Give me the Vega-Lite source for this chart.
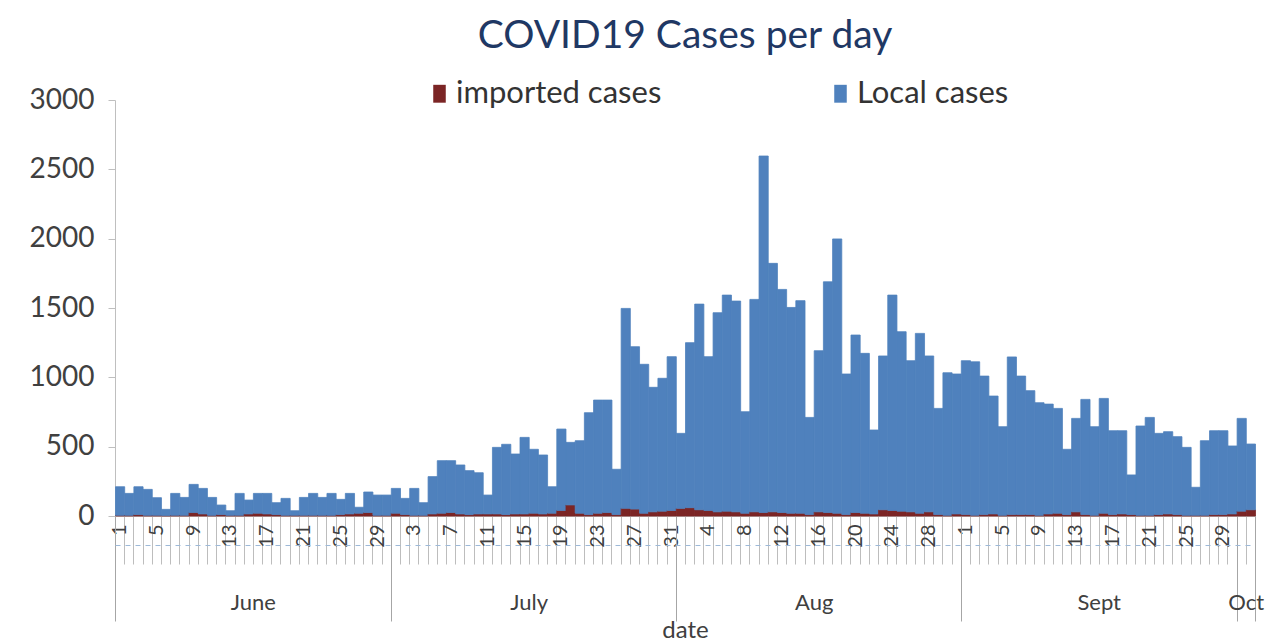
{
  "$schema": "https://vega.github.io/schema/vega-lite/v6.json",
  "width": 1140,
  "height": 416,
  "autosize": "none",
  "padding": {"left": 115, "top": 100, "right": 12, "bottom": 128},
  "background": "white",
  "config": {"view": {"stroke": null}, "font": "Lato", "bar": {"binSpacing": 0}},
  "title": {"text": "COVID19 Cases per day", "fontSize": 39, "font": "Lato", "fontWeight": "normal", "color": "#1F3864", "anchor": "middle", "offset": 22},
  "data": {"values": [
    {"date":"2020-06-01","imported":5,"local":206},
    {"date":"2020-06-02","imported":5,"local":158},
    {"date":"2020-06-03","imported":10,"local":201},
    {"date":"2020-06-04","imported":5,"local":187},
    {"date":"2020-06-05","imported":5,"local":127},
    {"date":"2020-06-06","imported":3,"local":45},
    {"date":"2020-06-07","imported":5,"local":158},
    {"date":"2020-06-08","imported":5,"local":129},
    {"date":"2020-06-09","imported":25,"local":203},
    {"date":"2020-06-10","imported":15,"local":184},
    {"date":"2020-06-11","imported":5,"local":129},
    {"date":"2020-06-12","imported":10,"local":69},
    {"date":"2020-06-13","imported":5,"local":33},
    {"date":"2020-06-14","imported":5,"local":158},
    {"date":"2020-06-15","imported":15,"local":100},
    {"date":"2020-06-16","imported":20,"local":143},
    {"date":"2020-06-17","imported":15,"local":148},
    {"date":"2020-06-18","imported":10,"local":86},
    {"date":"2020-06-19","imported":5,"local":122},
    {"date":"2020-06-20","imported":5,"local":33},
    {"date":"2020-06-21","imported":5,"local":129},
    {"date":"2020-06-22","imported":5,"local":158},
    {"date":"2020-06-23","imported":5,"local":129},
    {"date":"2020-06-24","imported":5,"local":158},
    {"date":"2020-06-25","imported":10,"local":110},
    {"date":"2020-06-26","imported":15,"local":148},
    {"date":"2020-06-27","imported":20,"local":43},
    {"date":"2020-06-28","imported":25,"local":148},
    {"date":"2020-06-29","imported":5,"local":146},
    {"date":"2020-06-30","imported":5,"local":146},
    {"date":"2020-07-01","imported":20,"local":179},
    {"date":"2020-07-02","imported":10,"local":117},
    {"date":"2020-07-03","imported":5,"local":194},
    {"date":"2020-07-04","imported":5,"local":91},
    {"date":"2020-07-05","imported":15,"local":269},
    {"date":"2020-07-06","imported":20,"local":379},
    {"date":"2020-07-07","imported":25,"local":374},
    {"date":"2020-07-08","imported":15,"local":353},
    {"date":"2020-07-09","imported":10,"local":317},
    {"date":"2020-07-10","imported":15,"local":297},
    {"date":"2020-07-11","imported":15,"local":136},
    {"date":"2020-07-12","imported":15,"local":480},
    {"date":"2020-07-13","imported":10,"local":507},
    {"date":"2020-07-14","imported":15,"local":432},
    {"date":"2020-07-15","imported":15,"local":552},
    {"date":"2020-07-16","imported":20,"local":461},
    {"date":"2020-07-17","imported":15,"local":425},
    {"date":"2020-07-18","imported":20,"local":191},
    {"date":"2020-07-19","imported":40,"local":587},
    {"date":"2020-07-20","imported":80,"local":451},
    {"date":"2020-07-21","imported":20,"local":523},
    {"date":"2020-07-22","imported":10,"local":735},
    {"date":"2020-07-23","imported":20,"local":816},
    {"date":"2020-07-24","imported":25,"local":811},
    {"date":"2020-07-25","imported":10,"local":327},
    {"date":"2020-07-26","imported":55,"local":1442},
    {"date":"2020-07-27","imported":50,"local":1171},
    {"date":"2020-07-28","imported":20,"local":1074},
    {"date":"2020-07-29","imported":30,"local":898},
    {"date":"2020-07-30","imported":35,"local":958},
    {"date":"2020-07-31","imported":40,"local":1109},
    {"date":"2020-08-01","imported":55,"local":541},
    {"date":"2020-08-02","imported":60,"local":1190},
    {"date":"2020-08-03","imported":45,"local":1483},
    {"date":"2020-08-04","imported":40,"local":1109},
    {"date":"2020-08-05","imported":30,"local":1436},
    {"date":"2020-08-06","imported":35,"local":1558},
    {"date":"2020-08-07","imported":30,"local":1520},
    {"date":"2020-08-08","imported":20,"local":732},
    {"date":"2020-08-09","imported":30,"local":1532},
    {"date":"2020-08-10","imported":25,"local":2571},
    {"date":"2020-08-11","imported":30,"local":1792},
    {"date":"2020-08-12","imported":25,"local":1609},
    {"date":"2020-08-13","imported":20,"local":1484},
    {"date":"2020-08-14","imported":20,"local":1533},
    {"date":"2020-08-15","imported":10,"local":701},
    {"date":"2020-08-16","imported":30,"local":1162},
    {"date":"2020-08-17","imported":25,"local":1664},
    {"date":"2020-08-18","imported":20,"local":1978},
    {"date":"2020-08-19","imported":10,"local":1014},
    {"date":"2020-08-20","imported":25,"local":1280},
    {"date":"2020-08-21","imported":20,"local":1153},
    {"date":"2020-08-22","imported":15,"local":605},
    {"date":"2020-08-23","imported":45,"local":1109},
    {"date":"2020-08-24","imported":40,"local":1553},
    {"date":"2020-08-25","imported":35,"local":1294},
    {"date":"2020-08-26","imported":30,"local":1090},
    {"date":"2020-08-27","imported":20,"local":1297},
    {"date":"2020-08-28","imported":30,"local":1124},
    {"date":"2020-08-29","imported":10,"local":766},
    {"date":"2020-08-30","imported":5,"local":1028},
    {"date":"2020-08-31","imported":15,"local":1009},
    {"date":"2020-09-01","imported":10,"local":1110},
    {"date":"2020-09-02","imported":5,"local":1107},
    {"date":"2020-09-03","imported":10,"local":999},
    {"date":"2020-09-04","imported":15,"local":850},
    {"date":"2020-09-05","imported":5,"local":639},
    {"date":"2020-09-06","imported":10,"local":1137},
    {"date":"2020-09-07","imported":10,"local":999},
    {"date":"2020-09-08","imported":10,"local":894},
    {"date":"2020-09-09","imported":5,"local":812},
    {"date":"2020-09-10","imported":15,"local":792},
    {"date":"2020-09-11","imported":20,"local":756},
    {"date":"2020-09-12","imported":10,"local":471},
    {"date":"2020-09-13","imported":30,"local":674},
    {"date":"2020-09-14","imported":10,"local":831},
    {"date":"2020-09-15","imported":5,"local":639},
    {"date":"2020-09-16","imported":20,"local":828},
    {"date":"2020-09-17","imported":10,"local":605},
    {"date":"2020-09-18","imported":15,"local":600},
    {"date":"2020-09-19","imported":10,"local":286},
    {"date":"2020-09-20","imported":5,"local":644},
    {"date":"2020-09-21","imported":5,"local":706},
    {"date":"2020-09-22","imported":10,"local":586},
    {"date":"2020-09-23","imported":15,"local":593},
    {"date":"2020-09-24","imported":10,"local":562},
    {"date":"2020-09-25","imported":5,"local":490},
    {"date":"2020-09-26","imported":5,"local":202},
    {"date":"2020-09-27","imported":5,"local":538},
    {"date":"2020-09-28","imported":10,"local":605},
    {"date":"2020-09-29","imported":10,"local":605},
    {"date":"2020-09-30","imported":15,"local":490},
    {"date":"2020-10-01","imported":35,"local":669},
    {"date":"2020-10-02","imported":45,"local":474}
  ]},
  "layer": [
    {
      "transform": [{"fold": ["imported", "local"], "as": ["type", "cases"]}],
      "mark": {"type": "bar", "binSpacing": 0, "strokeWidth": 0.8},
      "encoding": {
        "x": {
          "field": "date", "type": "temporal", "timeUnit": "utcyearmonthdate",
          "scale": {"domain": [{"year": 2020, "month": 6, "date": 1, "utc": true}, {"year": 2020, "month": 10, "date": 3, "utc": true}], "nice": false},
          "axis": {
            "orient": "bottom",
            "title": null,
            "tickCount": {"interval": "day", "step": 1},
            "labelExpr": "(round((datum.value - utc(2020,5,1)) / 86400000) % 4 == 0 && round((datum.value - utc(2020,5,1)) / 86400000) < 122) ? '' + utcdate(datum.value) : ''",
            "labelAngle": -90, "labelAlign": "right", "labelBaseline": "middle",
            "labelFontSize": 20, "labelColor": "#404040", "labelFont": "Lato",
            "labelPadding": -40, "labelOffset": 4.6,
            "labelOverlap": false, "labelFlush": false, "labelBound": false,
            "tickSize": 48, "tickColor": "#BDBDBD", "tickWidth": 1,
            "domainColor": "#BFBFBF", "grid": false
          }
        },
        "y": {
          "field": "cases", "type": "quantitative", "stack": "zero",
          "scale": {"domain": [0, 3000], "nice": false},
          "axis": {
            "title": null, "values": [0, 500, 1000, 1500, 2000, 2500, 3000], "format": "d",
            "tickSize": 7, "tickColor": "#BFBFBF", "domainColor": "#BFBFBF",
            "labelFontSize": 28, "labelColor": "#404040", "labelFont": "Lato",
            "labelPadding": 14, "grid": false
          }
        },
        "color": {
          "field": "type", "type": "nominal",
          "scale": {"domain": ["imported", "local"], "range": ["#7B2525", "#4F81BD"]},
          "legend": {
            "title": null, "orient": "none", "legendX": 309, "legendY": -22,
            "direction": "horizontal",
            "labelExpr": "datum.label == 'imported' ? 'imported cases' : 'Local cases'",
            "labelFontSize": 31, "labelColor": "#333333", "labelFont": "Lato",
            "symbolType": "M-0.7,-1L0.7,-1L0.7,1L-0.7,1Z", "symbolSize": 320,
            "symbolStrokeWidth": 0, "columnPadding": 163, "labelOffset": 1, "labelLimit": 400
          }
        },
        "stroke": {
          "field": "type", "type": "nominal",
          "scale": {"domain": ["imported", "local"], "range": ["#7B2525", "#4F81BD"]},
          "legend": null
        },
        "order": {"field": "type", "sort": "ascending"}
      }
    },
    {
      "data": {"values": [
        {"month": "June", "start": "2020-06-01"},
        {"month": "July", "start": "2020-07-01"},
        {"month": "Aug", "start": "2020-08-01"},
        {"month": "Sept", "start": "2020-09-01"},
        {"month": "Oct", "start": "2020-10-01"}
      ]},
      "mark": {"type": "rule", "opacity": 0},
      "encoding": {
        "x": {
          "field": "start", "type": "temporal", "timeUnit": "utcyearmonthdate",
          "scale": {"domain": [{"year": 2020, "month": 6, "date": 1, "utc": true}, {"year": 2020, "month": 10, "date": 3, "utc": true}], "nice": false},
          "axis": {
            "orient": "bottom",
            "title": null,
            "values": [
              {"year": 2020, "month": 6, "date": 1, "utc": true},
              {"year": 2020, "month": 7, "date": 1, "utc": true},
              {"year": 2020, "month": 8, "date": 1, "utc": true},
              {"year": 2020, "month": 9, "date": 1, "utc": true},
              {"year": 2020, "month": 10, "date": 1, "utc": true},
              {"year": 2020, "month": 10, "date": 3, "utc": true}
            ],
            "labels": false, "domain": false, "grid": false,
            "tickSize": 105, "tickColor": "#A6A6A6", "tickWidth": 1
          }
        }
      }
    },
    {
      "data": {"values": [
        {"month": "June", "start": "2020-06-01"},
        {"month": "July", "start": "2020-07-01"},
        {"month": "Aug", "start": "2020-08-01"},
        {"month": "Sept", "start": "2020-09-01"},
        {"month": "Oct", "start": "2020-10-01"}
      ]},
      "mark": {"type": "rule", "opacity": 0},
      "encoding": {
        "x": {
          "field": "start", "type": "temporal", "timeUnit": "utcyearmonthdate",
          "scale": {"domain": [{"year": 2020, "month": 6, "date": 1, "utc": true}, {"year": 2020, "month": 10, "date": 3, "utc": true}], "nice": false},
          "axis": {
            "orient": "bottom",
            "title": "date", "titleFontSize": 24, "titleFontWeight": "normal", "titleColor": "#404040", "titleFont": "Lato", "titlePadding": 5,
            "values": [
              {"year": 2020, "month": 6, "date": 16, "utc": true},
              {"year": 2020, "month": 7, "date": 16, "utc": true},
              {"year": 2020, "month": 8, "date": 16, "utc": true},
              {"year": 2020, "month": 9, "date": 16, "utc": true},
              {"year": 2020, "month": 10, "date": 2, "utc": true}
            ],
            "labelExpr": "utcmonth(datum.value) == 5 ? 'June' : utcmonth(datum.value) == 6 ? 'July' : utcmonth(datum.value) == 7 ? 'Aug' : utcmonth(datum.value) == 8 ? 'Sept' : 'Oct'",
            "labelFontSize": 22, "labelColor": "#404040", "labelFont": "Lato",
            "labelPadding": 47, "labelOverlap": false, "labelFlush": false, "labelBound": false,
            "ticks": false, "grid": false,
            "offset": 29, "domain": true, "domainDash": [5, 5], "domainColor": "#9DB9D8", "domainWidth": 1
          }
        }
      }
    }
  ],
  "resolve": {"axis": {"x": "independent"}}
}
